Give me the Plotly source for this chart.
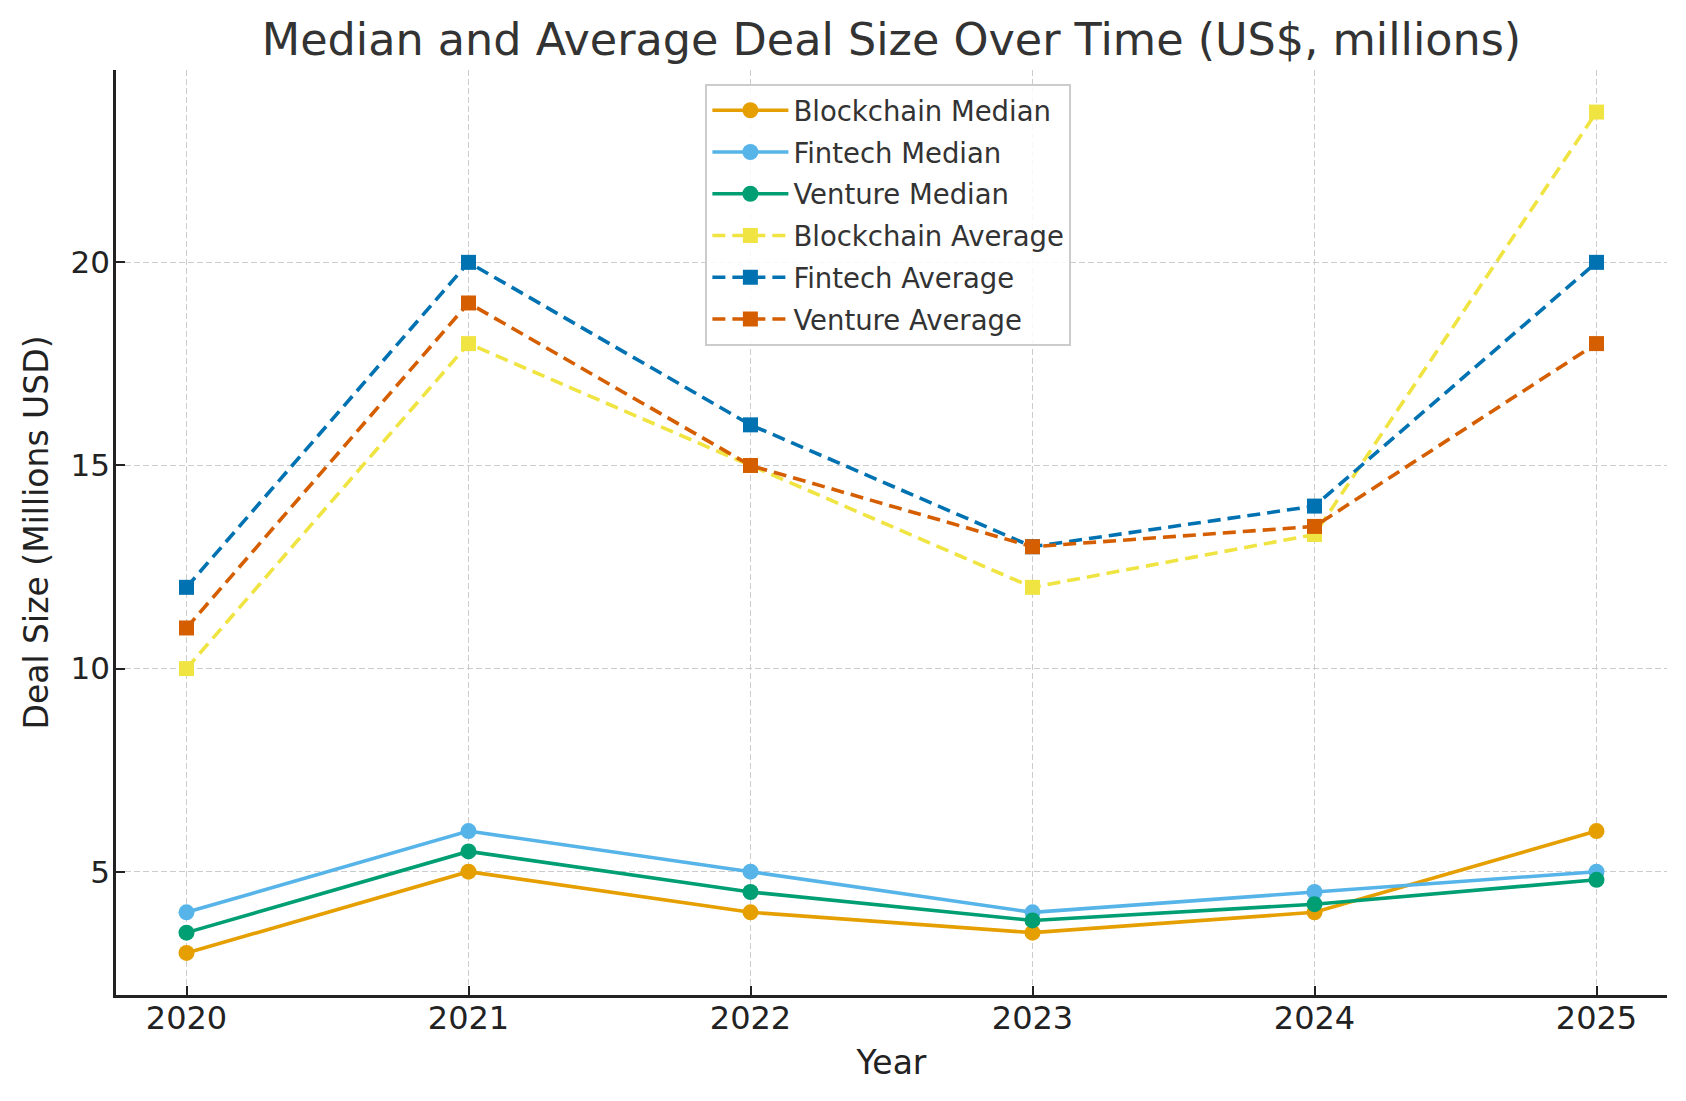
import plotly.graph_objects as go

years = [2020, 2021, 2022, 2023, 2024, 2025]
blockchain_median = [3, 5, 4, 3.5, 4, 6]
fintech_median = [4, 6, 5, 4, 4.5, 5]
venture_median = [3.5, 5.5, 4.5, 3.8, 4.2, 4.8]
blockchain_average = [10, 18, 15, 12, 13.3, 23.7]
fintech_average = [12, 20, 16, 13, 14, 20]
venture_average = [11, 19, 15, 13, 13.5, 18]

series = [
    ("Blockchain Median", blockchain_median, "#E69F00", "solid", "circle"),
    ("Fintech Median", fintech_median, "#56B4E9", "solid", "circle"),
    ("Venture Median", venture_median, "#009E73", "solid", "circle"),
    ("Blockchain Average", blockchain_average, "#F0E442", "13px,7px", "square"),
    ("Fintech Average", fintech_average, "#0072B2", "13px,7px", "square"),
    ("Venture Average", venture_average, "#D55E00", "13px,7px", "square"),
]

fig = go.Figure()
for name, vals, color, dash, sym in series:
    fig.add_trace(go.Scatter(
        x=years, y=vals, name=name, mode="lines+markers",
        legendgroup=name,
        line=dict(color=color, width=3.6, dash=dash),
        marker=dict(color=color, size=16 if sym == "circle" else 15, symbol=sym),
    ))

font_family = "DejaVu Sans"
fig.update_layout(
    width=1686, height=1101,
    margin=dict(l=116, r=19, t=70, b=106),
    paper_bgcolor="white", plot_bgcolor="white",
    font=dict(family=font_family, color="#222222", size=20),
    title=dict(text="Median and Average Deal Size Over Time (US$, millions)",
               x=0.5, xref="paper", xanchor="center", y=0.964, yanchor="middle",
               font=dict(size=44.5, color="#333333")),
    legend=dict(x=0.38, y=0.985, xanchor="left", yanchor="top",
                bgcolor="rgba(255,255,255,0.85)", bordercolor="#cccccc", borderwidth=2,
                font=dict(size=27.5, color="#333333"), tracegroupgap=3,
                itemwidth=76, traceorder="grouped"),
    showlegend=True,
)
fig.update_xaxes(
    range=[2019.75, 2025.25], tickvals=years, ticktext=[str(y) for y in years],
    showline=True, linecolor="#222222", linewidth=2.5, mirror=False,
    ticks="inside", ticklen=9, tickwidth=2, tickcolor="#222222",
    showgrid=True, gridcolor="#cccccc", griddash="6px,3px", gridwidth=1.3,
    zeroline=False, tickfont=dict(size=32), ticklabelstandoff=-7,
    title=dict(text="Year", font=dict(size=33), standoff=15),
)
fig.update_yaxes(
    range=[1.965, 24.735], tickvals=[5, 10, 15, 20],
    showline=True, linecolor="#222222", linewidth=2.5, mirror=False,
    ticks="inside", ticklen=9, tickwidth=2, tickcolor="#222222",
    showgrid=True, gridcolor="#cccccc", griddash="6px,3px", gridwidth=1.3,
    zeroline=False, tickfont=dict(size=31), ticklabelstandoff=-3,
    title=dict(text="Deal Size (Millions USD)", font=dict(size=33), standoff=13),
)

fig.write_html("out.html")
